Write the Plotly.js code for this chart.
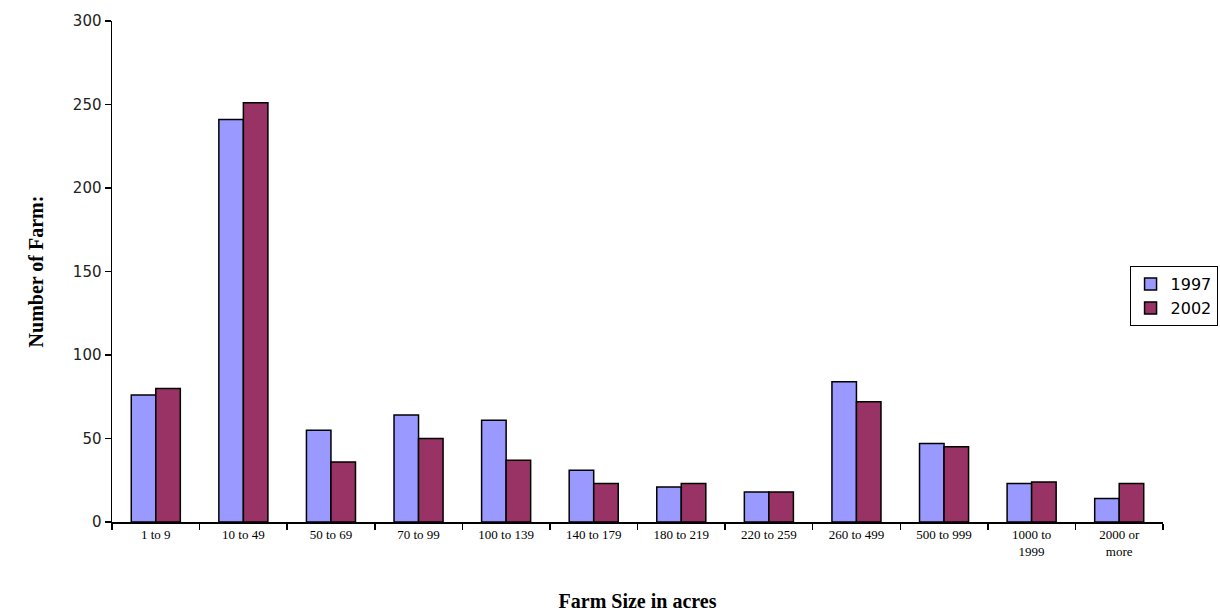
<!DOCTYPE html>
<html>
<head>
<meta charset="utf-8">
<script src="https://cdn.plot.ly/plotly-3.0.1.min.js"></script>
<style>html,body{margin:0;padding:0;background:#fff}#chart{width:1220px;height:612px}</style>
</head>
<body>
<div id="chart"></div>
<script>
const categories = ["1 to 9", "10 to 49", "50 to 69", "70 to 99", "100 to 139", "140 to 179", "180 to 219", "220 to 259", "260 to 499", "500 to 999", "1000 to<br>1999", "2000 or<br>more"];
const series1997 = [76, 241, 55, 64, 61, 31, 21, 18, 84, 47, 23, 14];
const series2002 = [80, 251, 36, 50, 37, 23, 23, 18, 72, 45, 24, 23];
const yTicks = [0, 50, 100, 150, 200, 250, 300];

const traces = [
  {type: "bar", name: "1997", x: categories, y: series1997,
   marker: {color: "#9999FF", line: {color: "#000", width: 1.5}}},
  {type: "bar", name: "2002", x: categories, y: series2002,
   marker: {color: "#993366", line: {color: "#000", width: 1.5}}}
];

const layout = {
  width: 1220, height: 612,
  margin: {l: 112, r: 57, t: 21, b: 90, autoexpand: false},
  paper_bgcolor: "#fff", plot_bgcolor: "#fff",
  barmode: "group", bargap: 0.44, bargroupgap: 0,
  showlegend: true,
  legend: {xref: "container", yref: "container", x: 0.998, xanchor: "right", y: 0.565, yanchor: "top",
    bordercolor: "#000", borderwidth: 1, bgcolor: "#fff",
    font: {family: "DejaVu Sans", size: 16, color: "#000"},
    itemwidth: 30, tracegroupgap: 2},
  xaxis: {
    type: "category", showline: true, linecolor: "#000", linewidth: 1.5,
    ticks: "outside", tickson: "boundaries", ticklen: 6, tickcolor: "#000", tickwidth: 1.5,
    showgrid: false, zeroline: false,
    tickfont: {family: "Liberation Serif", size: 13, color: "#000"},
    title: {text: "<b>Farm Size in acres</b>", font: {family: "Liberation Serif", size: 20, color: "#000"}, standoff: 38}
  },
  yaxis: {
    range: [0, 300], tickvals: yTicks, showline: true, linecolor: "#000", linewidth: 1.5,
    ticks: "outside", ticklen: 6, tickcolor: "#000", tickwidth: 1.5,
    showgrid: false, zeroline: false,
    tickfont: {family: "DejaVu Sans", size: 15, color: "#222"},
    title: {text: "<b>Number of Farm:</b>", font: {family: "Liberation Serif", size: 20, color: "#000"}, standoff: 24}
  }
};

Plotly.newPlot("chart", traces, layout, {displayModeBar: false, staticPlot: true});
</script>
</body>
</html>
